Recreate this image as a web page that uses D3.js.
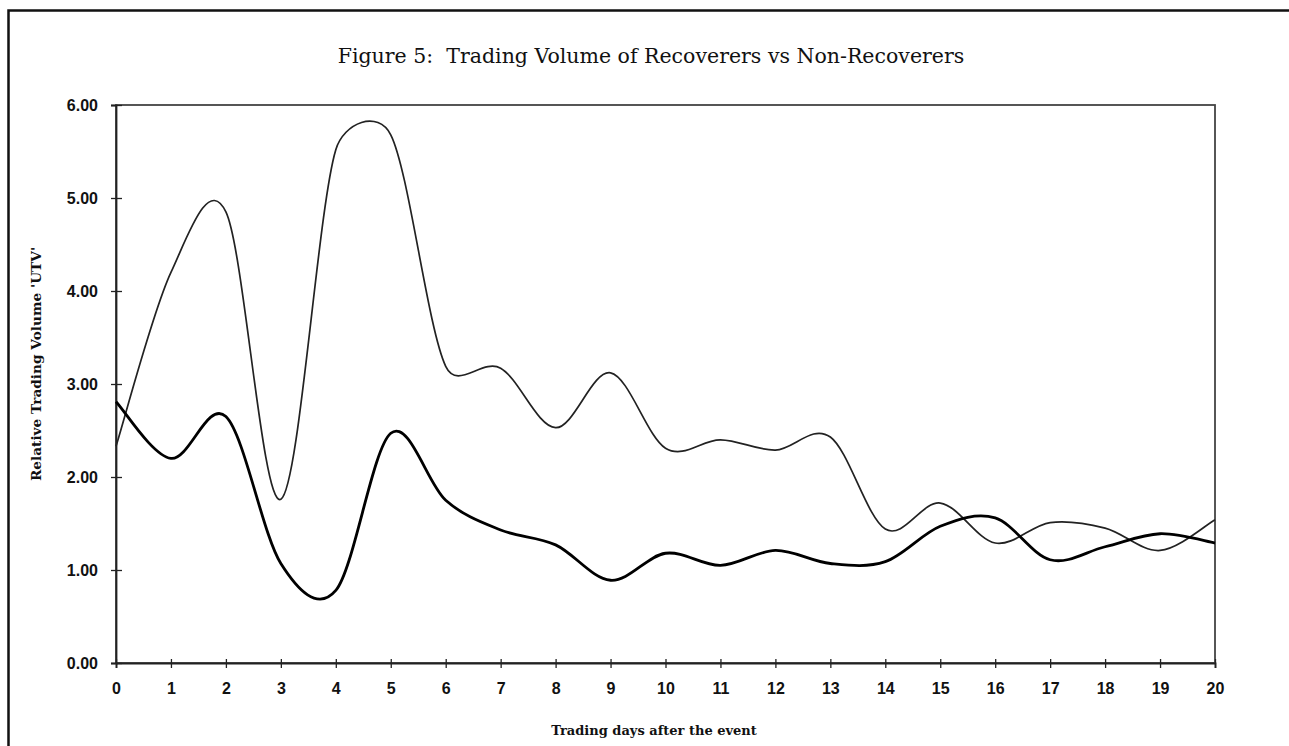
<!DOCTYPE html>
<html>
<head>
<meta charset="utf-8">
<script src="https://cdn.jsdelivr.net/npm/d3@7"></script>
<style>
  body { margin: 0; background: white; }
</style>
</head>
<body>
<svg id="chart"></svg>
<script>
// trading volume chart, two smoothed lines
var W = 1289;
var H = 746;
var margin = {top: 105, right: 74, bottom: 83, left: 116};

var days = [0, 1, 2, 3, 4, 5, 6, 7, 8, 9, 10, 11, 12, 13, 14, 15, 16, 17, 18, 19, 20];
var recoverers = [2.33, 4.2, 4.85, 1.76, 5.52, 5.68, 3.19, 3.17, 2.53, 3.12, 2.31, 2.40, 2.29, 2.43, 1.44, 1.72, 1.29, 1.51, 1.45, 1.21, 1.54];
var nonRecoverers = [2.81, 2.2, 2.65, 1.07, 0.78, 2.47, 1.75, 1.43, 1.27, 0.89, 1.18, 1.05, 1.21, 1.07, 1.09, 1.47, 1.56, 1.11, 1.25, 1.39, 1.29];
var yTicks = [0, 1, 2, 3, 4, 5, 6];

// spreadsheet style smoothing: bezier with 1/6 handles,
// clamped to half the segment when neighbours are far away
function SmoothCurve(context) { this._context = context; }
SmoothCurve.prototype = {
  areaStart: function() {},
  areaEnd: function() {},
  lineStart: function() { this._pts = []; },
  point: function(x, y) { this._pts.push([+x, +y]); },
  lineEnd: function() {
    var p = this._pts, c = this._context, n = p.length;
    if (!n) return;
    var dist = (a, b) => Math.hypot(b[0] - a[0], b[1] - a[1]);
    c.moveTo(p[0][0], p[0][1]);
    for (var i = 0; i < n - 1; i++) {
      var p0 = p[i - 1] || p[i], p1 = p[i], p2 = p[i + 1], p3 = p[i + 2] || p[i + 1];
      var d12 = dist(p1, p2), d02 = dist(p0, p2), d13 = dist(p1, p3);
      var f0 = d02 / 6 < d12 / 2 ? 1 / 6 : d12 / 2 / d02;
      var f3 = d13 / 6 < d12 / 2 ? 1 / 6 : d12 / 2 / d13;
      c.bezierCurveTo(
        p1[0] + (p2[0] - p0[0]) * f0, p1[1] + (p2[1] - p0[1]) * f0,
        p2[0] - (p3[0] - p1[0]) * f3, p2[1] - (p3[1] - p1[1]) * f3,
        p2[0], p2[1]);
    }
  }
};

var svg = d3.select("#chart")
  .attr("width", W)
  .attr("height", H);

svg.append("rect")
  .attr("width", "100%")
  .attr("height", "100%")
  .attr("fill", "white");

// outer frame of the page
svg.append("rect")
  .attr("x", 8.5)
  .attr("y", 10.5)
  .attr("width", W + 20)
  .attr("height", H + 20)
  .attr("fill", "none")
  .attr("stroke", "#111")
  .attr("stroke-width", 2.5);

var x = d3.scaleLinear()
  .domain([0, 20])
  .range([margin.left, W - margin.right]);

var y = d3.scaleLinear()
  .domain([0, 6])
  .range([H - margin.bottom, margin.top]);

svg.append("text")
  .attr("x", 651)
  .attr("y", 63)
  .attr("text-anchor", "middle")
  .style("white-space", "pre")
  .style("font-family", "'DejaVu Serif', serif")
  .style("font-size", "20.5px")
  .attr("fill", "#111")
  .text("Figure 5:  Trading Volume of Recoverers vs Non-Recoverers");

// plot box
svg.append("rect")
  .attr("x", x(0))
  .attr("y", y(6))
  .attr("width", x(20) - x(0))
  .attr("height", y(0) - y(6))
  .attr("fill", "none")
  .attr("stroke", "#444")
  .attr("stroke-width", 1.8);

var xAxis = g => g
  .attr("transform", `translate(0,${y(0)})`)
  .call(d3.axisBottom(x).tickValues(days).tickFormat(d3.format("d")).tickSize(5).tickPadding(0))
  .call(g => g.select(".domain").attr("stroke", "#222").attr("stroke-width", 1.8))
  .call(g => g.selectAll(".tick line").attr("y1", -4).attr("stroke", "#222").attr("stroke-width", 1.3))
  .call(g => g.selectAll(".tick text").attr("y", 31).attr("dy", 0));

var yAxis = g => g
  .attr("transform", `translate(${x(0)},0)`)
  .call(d3.axisLeft(y).tickValues(yTicks).tickFormat(d3.format(".2f")).tickSize(5).tickPadding(0))
  .call(g => g.select(".domain").attr("stroke", "#222").attr("stroke-width", 1.8))
  .call(g => g.selectAll(".tick line").attr("x1", 6).attr("stroke", "#222").attr("stroke-width", 1.3))
  .call(g => g.selectAll(".tick text").attr("x", -18).attr("dy", "0.36em"));

svg.append("g").call(xAxis);
svg.append("g").call(yAxis);

svg.selectAll(".tick text")
  .style("font-family", "'Liberation Sans', Arial, sans-serif")
  .style("font-size", "16px")
  .style("font-weight", "bold")
  .attr("fill", "#111");

var line = d3.line()
  .curve(ctx => new SmoothCurve(ctx))
  .x((d, i) => x(days[i]))
  .y(d => y(d));

svg.append("path")
  .datum(recoverers)
  .attr("fill", "none")
  .attr("stroke", "#222")
  .attr("stroke-width", 1.7)
  .attr("stroke-linejoin", "round")
  .attr("d", line);

svg.append("path")
  .datum(nonRecoverers)
  .attr("fill", "none")
  .attr("stroke", "#000")
  .attr("stroke-width", 2.8)
  .attr("stroke-linejoin", "round")
  .attr("d", line);

svg.append("text")
  .attr("x", 654)
  .attr("y", 735)
  .attr("text-anchor", "middle")
  .style("font-family", "'DejaVu Serif', serif")
  .style("font-size", "13px")
  .style("font-weight", "bold")
  .attr("fill", "#111")
  .text("Trading days after the event");

svg.append("text")
  .attr("transform", "translate(41,364) rotate(-90)")
  .attr("text-anchor", "middle")
  .style("font-family", "'DejaVu Serif', serif")
  .style("font-size", "13.7px")
  .style("font-weight", "bold")
  .attr("fill", "#111")
  .text("Relative Trading Volume 'UTV'");
</script>
</body>
</html>
